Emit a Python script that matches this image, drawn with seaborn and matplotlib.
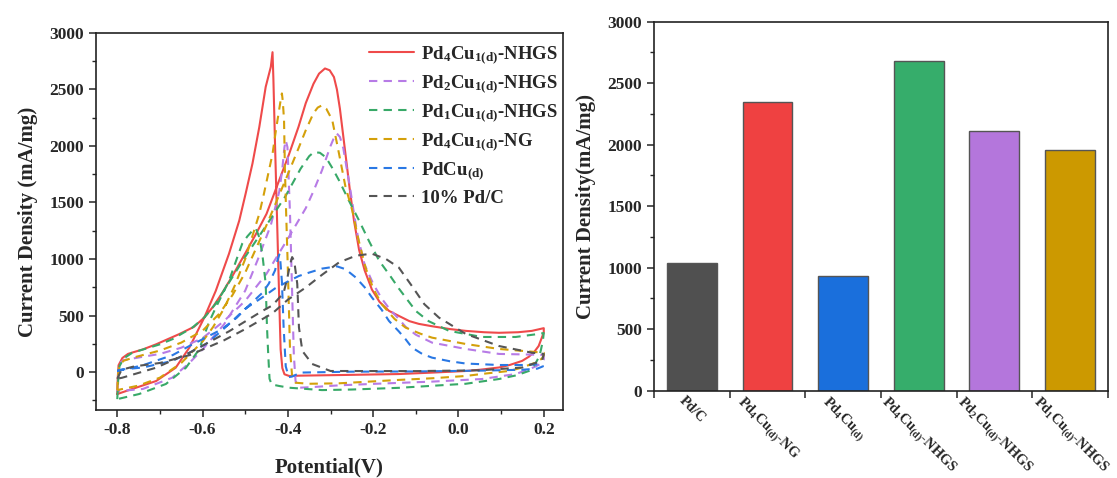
import numpy as np
import pandas as pd
import matplotlib
matplotlib.use("Agg")
import matplotlib.pyplot as plt
import seaborn as sns

# ---- CV loops (forward scan then reverse scan), potential in V, current in mA/mg ----
pd4cu1_nhgs_v = [-0.8, -0.799, -0.797, -0.788, -0.775, -0.765, -0.74, -0.709, -0.655, -0.62, -0.596, -0.575,
                 -0.554, -0.53, -0.5, -0.475, -0.45, -0.425, -0.397, -0.375, -0.358, -0.34, -0.327, -0.313,
                 -0.302, -0.292, -0.285, -0.278, -0.265, -0.255, -0.245, -0.233, -0.22, -0.203, -0.185,
                 -0.163, -0.14, -0.115, -0.093, -0.062, -0.02, 0.017, 0.06, 0.095, 0.14, 0.172, 0.2,
                 0.2, 0.195, 0.188, 0.178, 0.165, 0.149, 0.12, 0.095, 0.05, 0.017, -0.06, -0.14, -0.28,
                 -0.37, -0.397, -0.408, -0.413, -0.417, -0.42, -0.425, -0.43, -0.434, -0.436, -0.44,
                 -0.452, -0.467, -0.483, -0.499, -0.514, -0.538, -0.569, -0.596, -0.631, -0.663, -0.709,
                 -0.765, -0.8]
pd4cu1_nhgs_i = [-195, -60, 60, 124, 160, 172, 200, 245, 335, 400, 482, 580,
                 700, 850, 1050, 1220, 1400, 1650, 1930, 2170, 2380, 2550, 2640, 2686,
                 2670, 2610, 2500, 2330, 1930, 1620, 1340, 1080, 900, 730, 620,
                 541, 497, 450, 426, 405, 380, 364, 352, 347, 352, 364, 388,
                 350, 300, 230, 180, 135, 98, 62, 40, 20, 9, -5, -18, -27,
                 -32, -35, -20, 35, 200, 600, 1300, 2000, 2600, 2830, 2700,
                 2523, 2168, 1845, 1579, 1340, 1047, 719, 482, 216, 38, -80,
                 -150, -195]

pd2cu1_nhgs_v = [-0.8, -0.798, -0.795, -0.785, -0.77, -0.74, -0.7, -0.65, -0.631, -0.6, -0.569, -0.55,
                 -0.5, -0.45, -0.4, -0.358, -0.34, -0.32, -0.3, -0.29, -0.285, -0.278, -0.27, -0.262,
                 -0.255, -0.245, -0.235, -0.22, -0.2, -0.18, -0.16, -0.14, -0.124, -0.1, -0.062, 0.017,
                 0.095, 0.172, 0.2,
                 0.2, 0.192, 0.17, 0.134, 0.055, -0.062, -0.2, -0.28, -0.35, -0.374, -0.382, -0.386,
                 -0.39, -0.395, -0.399, -0.401, -0.405, -0.408, -0.413, -0.42, -0.44, -0.47, -0.5,
                 -0.55, -0.6, -0.631, -0.671, -0.74, -0.8]
pd2cu1_nhgs_i = [-170, -40, 80, 105, 115, 135, 160, 215, 248, 300, 393, 450,
                 630, 870, 1180, 1450, 1600, 1785, 2000, 2090, 2110, 2080, 1980, 1800,
                 1650, 1400, 1180, 950, 780, 650, 550, 470, 400, 330, 260, 204,
                 160, 154, 150,
                 110, 71, 30, -18, -62, -85, -105, -118, -135, -139, -80, 150,
                 700, 1400, 1800, 1990, 2050, 1990, 1800, 1600, 1300, 1000, 720,
                 420, 200, 80, -50, -150, -170]

pd1cu1_nhgs_v = [-0.8, -0.798, -0.795, -0.785, -0.765, -0.725, -0.7, -0.671, -0.624, -0.596, -0.57, -0.55,
                 -0.5, -0.45, -0.405, -0.37, -0.35, -0.339, -0.325, -0.311, -0.295, -0.28, -0.257, -0.233,
                 -0.21, -0.186, -0.16, -0.14, -0.1, -0.07, -0.022, 0.055, 0.134, 0.188, 0.2,
                 0.198, 0.193, 0.188, 0.178, 0.165, 0.135, 0.095, 0.017, -0.14, -0.25, -0.32, -0.397,
                 -0.42, -0.438, -0.443, -0.446, -0.449, -0.452, -0.46, -0.467, -0.475, -0.483, -0.495,
                 -0.507, -0.52, -0.538, -0.569, -0.585, -0.608, -0.639, -0.686, -0.749, -0.8]
pd1cu1_nhgs_i = [-240, -80, 50, 120, 170, 216, 245, 290, 393, 482, 600, 720,
                 1020, 1300, 1560, 1800, 1910, 1946, 1940, 1900, 1800, 1695, 1517, 1340,
                 1160, 985, 850, 740, 540, 450, 364, 310, 310, 337, 345,
                 280, 190, 127, 60, 9, -30, -62, -104, -140, -155, -160, -139,
                 -124, -110, -60, 150, 400, 780, 1047, 1192, 1270, 1251, 1200,
                 1136, 1000, 807, 570, 440, 200, 38, -106, -195, -240]

pd4cu1_ng_v = [-0.8, -0.798, -0.795, -0.785, -0.76, -0.7, -0.65, -0.6, -0.561, -0.53, -0.5, -0.45,
               -0.4, -0.375, -0.358, -0.34, -0.33, -0.32, -0.31, -0.296, -0.28, -0.265, -0.249, -0.235,
               -0.218, -0.2, -0.18, -0.15, -0.124, -0.09, -0.062, 0.017, 0.095, 0.172, 0.2,
               0.2, 0.196, 0.185, 0.172, 0.145, 0.118, 0.06, 0.017, -0.06, -0.14, -0.28, -0.35, -0.382,
               -0.39, -0.395, -0.4, -0.404, -0.407, -0.409, -0.412, -0.414, -0.418, -0.428, -0.436,
               -0.456, -0.467, -0.485, -0.5, -0.525, -0.55, -0.575, -0.6, -0.65, -0.7, -0.75, -0.8]
pd4cu1_ng_i = [-160, -20, 60, 100, 130, 190, 260, 365, 515, 680, 880, 1300,
               1750, 1980, 2140, 2290, 2340, 2360, 2330, 2230, 1930, 1640, 1430, 1180,
               925, 740, 600, 470, 393, 340, 304, 248, 204, 180, 170,
               150, 120, 90, 71, 35, 9, -15, -35, -55, -70, -100, -104, -95,
               -40, 200, 900, 1400, 1800, 2230, 2400, 2465, 2380, 2140, 1930,
               1580, 1400, 1180, 1000, 760, 560, 400, 270, 80, -50, -120, -160]

pdcu_v = [-0.8, -0.79, -0.74, -0.671, -0.631, -0.592, -0.56, -0.53, -0.5, -0.46, -0.43, -0.397,
          -0.374, -0.35, -0.32, -0.285, -0.265, -0.241, -0.22, -0.203, -0.18, -0.163, -0.14, -0.124,
          -0.109, -0.085, -0.062, -0.02, 0.017, 0.095, 0.15, 0.196,
          0.198, 0.185, 0.15, 0.05, -0.1, -0.25, -0.37, -0.39, -0.398, -0.405, -0.41, -0.414,
          -0.418, -0.42, -0.425, -0.43, -0.445, -0.46, -0.491, -0.52, -0.554, -0.6, -0.631, -0.67,
          -0.74, -0.78, -0.8]
pdcu_i = [10, 22, 40, 98, 170, 248, 350, 452, 560, 660, 740, 807,
          850, 880, 915, 935, 910, 837, 750, 660, 550, 452, 360, 290,
          216, 160, 127, 95, 75, 62, 62, 70,
          50, 30, 20, 12, 5, 3, -5, -40, -45, 50, 400, 800,
          1000, 1040, 980, 900, 780, 700, 590, 480, 380, 290, 230, 150,
          60, 25, 10]

pdc_v = [-0.8, -0.79, -0.76, -0.7, -0.63, -0.55, -0.5, -0.436, -0.4, -0.358, -0.32, -0.28,
         -0.24, -0.203, -0.17, -0.14, -0.109, -0.08, -0.046, 0.017, 0.095, 0.172, 0.2,
         0.196, 0.15, 0.05, -0.1, -0.3, -0.343, -0.366, -0.374, -0.378, -0.385, -0.39, -0.395,
         -0.401, -0.41, -0.436, -0.46, -0.538, -0.631, -0.709, -0.788, -0.8]
pdc_i = [-60, 20, 50, 80, 150, 280, 380, 520, 640, 748, 860, 970,
         1030, 1047, 1000, 925, 760, 600, 482, 337, 230, 171, 160,
         100, 40, 15, 8, 9, 71, 186, 393, 780, 980, 1017, 950,
         837, 700, 590, 540, 360, 170, 38, -50, -60]

cv_names = [r"Pd$_{\mathrm{4}}$Cu$_{\mathrm{1(d)}}$-NHGS",
            r"Pd$_{\mathrm{2}}$Cu$_{\mathrm{1(d)}}$-NHGS",
            r"Pd$_{\mathrm{1}}$Cu$_{\mathrm{1(d)}}$-NHGS",
            r"Pd$_{\mathrm{4}}$Cu$_{\mathrm{1(d)}}$-NG",
            r"PdCu$_{\mathrm{(d)}}$",
            "10% Pd/C"]
cv_colors = ["#ef4a4a", "#b77be6", "#38a968", "#d4a00a", "#2a78e4", "#555555"]

# ---- bar chart: peak current density ----
bar_names = ["Pd/C", "Pd4Cu(d)-NG", "Pd4Cu(d)", "Pd4Cu(d)-NHGS", "Pd2Cu(d)-NHGS", "Pd1Cu(d)-NHGS"]
bar_labels = ["Pd/C",
              r"Pd$_{\mathrm{4}}$Cu$_{\mathrm{(d)}}$-NG",
              r"Pd$_{\mathrm{4}}$Cu$_{\mathrm{(d)}}$",
              r"Pd$_{\mathrm{4}}$Cu$_{\mathrm{(d)}}$-NHGS",
              r"Pd$_{\mathrm{2}}$Cu$_{\mathrm{(d)}}$-NHGS",
              r"Pd$_{\mathrm{1}}$Cu$_{\mathrm{(d)}}$-NHGS"]
bar_values = [1035, 2350, 935, 2680, 2110, 1960]
bar_colors = ["#505050", "#ef4141", "#1a6fdc", "#36ad6b", "#b476dc", "#cc9900"]

sns.set_style("ticks")
plt.rcParams["font.family"] = ["Liberation Serif", "DejaVu Serif"]
plt.rcParams["font.weight"] = "bold"
plt.rcParams["axes.labelweight"] = "bold"
plt.rcParams["mathtext.fontset"] = "custom"
plt.rcParams["mathtext.rm"] = "Liberation Serif:bold"
plt.rcParams["mathtext.it"] = "Liberation Serif:bold:italic"
plt.rcParams["mathtext.bf"] = "Liberation Serif:bold"

fig = plt.figure(figsize=(11.17, 4.78), dpi=100)
ax1 = fig.add_axes([0.0859, 0.1423, 0.4181, 0.7887])
ax2 = fig.add_axes([0.5855, 0.1826, 0.4064, 0.772])

# build long table for the CV loops
loops = [(pd4cu1_nhgs_v, pd4cu1_nhgs_i), (pd2cu1_nhgs_v, pd2cu1_nhgs_i),
         (pd1cu1_nhgs_v, pd1cu1_nhgs_i), (pd4cu1_ng_v, pd4cu1_ng_i),
         (pdcu_v, pdcu_i), (pdc_v, pdc_i)]
frames = []
for name, (v, i) in zip(cv_names, loops):
    frames.append(pd.DataFrame({"V": v, "I": i, "sample": name, "step": np.arange(len(v))}))
cv = pd.concat(frames, ignore_index=True)

dash_map = {n: (4, 3) for n in cv_names}
dash_map[cv_names[0]] = ""
sns.lineplot(data=cv, x="V", y="I", hue="sample", style="sample", hue_order=cv_names,
             style_order=cv_names, palette=dict(zip(cv_names, cv_colors)), dashes=dash_map,
             sort=False, estimator=None, linewidth=1.5, ax=ax1)

handles, labels = ax1.get_legend_handles_labels()
ax1.legend(handles, labels, loc="upper right", bbox_to_anchor=(1.025, 1.015), frameon=False,
           fontsize=13.5, handlelength=2.4, labelspacing=0.4, handletextpad=0.4)

ax1.set_xlim(-0.85, 0.245)
ax1.set_ylim(-336, 3000)
ax1.set_xticks(np.arange(-0.8, 0.21, 0.2))
ax1.set_xticklabels(["-0.8", "-0.6", "-0.4", "-0.2", "0.0", "0.2"])
ax1.set_xticks(np.arange(-0.7, 0.2, 0.2), minor=True)
ax1.set_yticks(np.arange(0, 3001, 500))
ax1.set_yticks(np.arange(-250, 3000, 500), minor=True)
ax1.set_xlabel("Potential(V)", fontsize=15, labelpad=14)
ax1.set_ylabel("Current Density (mA/mg)", fontsize=15, labelpad=8)

# bars
sns.barplot(x=bar_names, y=bar_values, hue=bar_names, palette=bar_colors, legend=False,
            width=0.66, edgecolor="#555555", linewidth=1.0, saturation=1, ax=ax2)
ax2.set_xlim(-0.5, 5.5)
ax2.set_ylim(0, 3000)
ax2.set_xticks(range(len(bar_names)))
ax2.set_xticklabels(bar_labels, rotation=-45, ha="center", rotation_mode="default")
ax2.set_xticks(np.arange(-0.5, 5.6, 1.0), minor=True)
ax2.set_yticks(np.arange(0, 3001, 500))
ax2.set_yticks(np.arange(250, 3000, 500), minor=True)
ax2.set_ylabel("Current Density(mA/mg)", fontsize=15, labelpad=8)

for ax in (ax1, ax2):
    for s in ax.spines.values():
        s.set_visible(True)
        s.set_linewidth(1.2)
        s.set_color("#222222")
    ax.tick_params(which="major", direction="out", length=5, width=1.1, labelsize=12.5)
    ax.tick_params(which="minor", direction="out", length=3, width=1.0)
ax2.tick_params(axis="x", which="minor", length=5, width=1.1)
ax2.tick_params(axis="x", which="major", length=0, pad=2, labelsize=10.3)

fig.savefig("out.png", dpi=100)
